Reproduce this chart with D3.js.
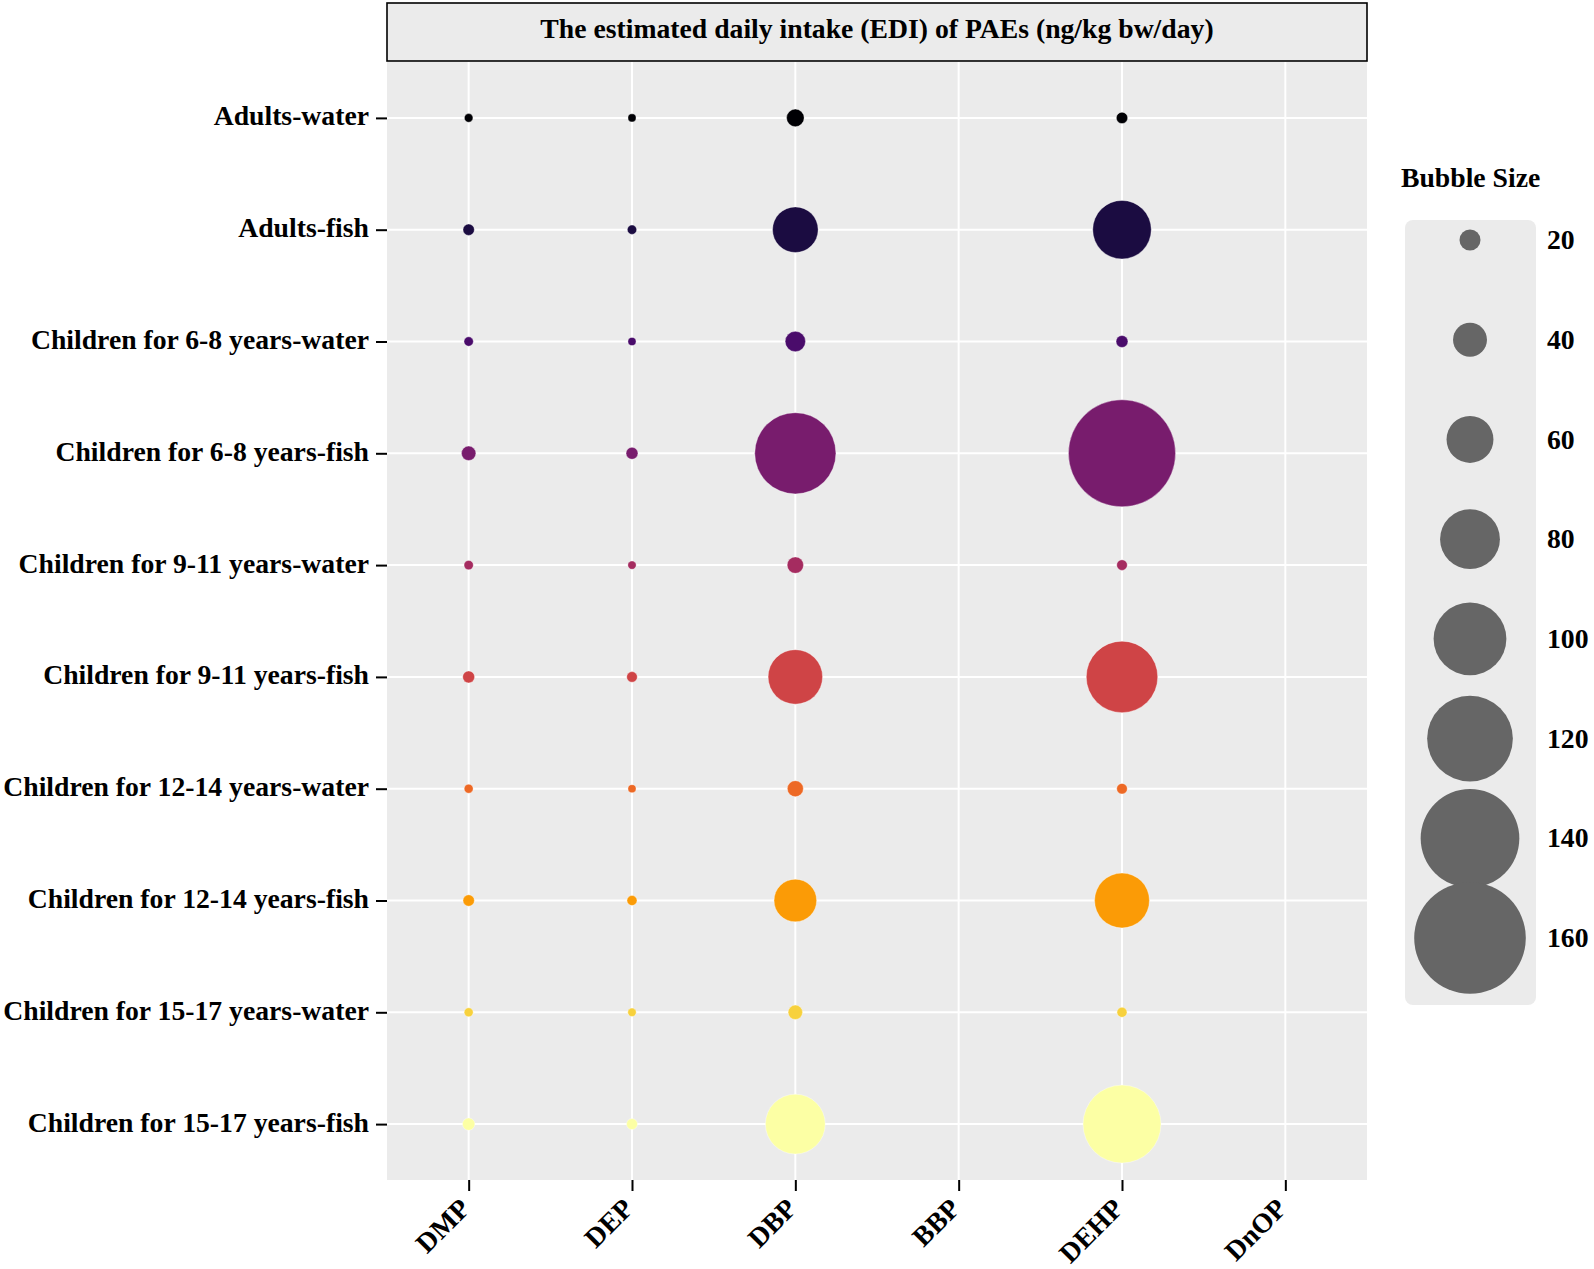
<!DOCTYPE html>
<html>
<head>
<meta charset="utf-8">
<script src="https://cdn.jsdelivr.net/npm/d3@7"></script>
<style>
  body { margin: 0; background: #fff; }
  text { font-family: "Liberation Serif", "Times New Roman", serif; font-weight: bold; fill: #000; }
</style>
</head>
<body>
<svg id="chart" width="1594" height="1269"></svg>
<script>
// compounds (x) and exposure groups (y)
const compounds = ["DMP", "DEP", "DBP", "BBP", "DEHP", "DnOP"];
const groups = [
    "Adults-water", "Adults-fish",
    "Children for 6-8 years-water", "Children for 6-8 years-fish",
    "Children for 9-11 years-water", "Children for 9-11 years-fish",
    "Children for 12-14 years-water", "Children for 12-14 years-fish",
    "Children for 15-17 years-water", "Children for 15-17 years-fish"
];

// EDI values per compound, one per group (null = not drawn)
const dmp  = [0.8, 5.1, 2.0, 9.8, 2.0, 6.0, 1.4, 5.1, 1.4, 6.7];
const dep  = [0.0, 2.0, 0.0, 6.0, 0.5, 3.9, 0.0, 3.0, 0.5, 4.5];
const dbp  = [14.7, 58, 19, 113, 12.9, 71.7, 12.3, 53.4, 9.8, 80];
const bbp  = [null, null, null, null, null, null, null, null, null, null];
const dehp = [5.1, 78, 6, 153, 3.9, 98, 3.9, 72.3, 3.0, 108];
const dnop = [null, null, null, null, null, null, null, null, null, null];

const sizeBreaks = [20, 40, 60, 80, 100, 120, 140, 160];
const chartTitle = "The estimated daily intake (EDI) of PAEs (ng/kg bw/day)";

const seriesByCompound = { DMP: dmp, DEP: dep, DBP: dbp, BBP: bbp, DEHP: dehp, DnOP: dnop };

const points = [];
compounds.forEach((c) => {
    seriesByCompound[c].forEach((v, i) => {
        if (v != null) points.push({ compound: c, group: groups[i], gi: i, value: v });
    });
});

const svg = d3.select("#chart");
const fontSize = 27.7;

const panel = { left: 387, right: 1367, top: 62, bottom: 1180 };

const x = d3.scalePoint().domain(compounds).range([panel.left, panel.right]).padding(0.5);
const y = d3.scalePoint().domain(groups).range([panel.top, panel.bottom]).padding(0.5);
const r = d3.scaleLinear().domain([0, 160]).range([4.04, 55.8]);
const colour = (i) => d3.interpolateInferno(i / (groups.length - 1));

// strip title
svg.append("rect")
    .attr("x", panel.left).attr("y", 3)
    .attr("width", panel.right - panel.left).attr("height", panel.top - 4)
    .attr("fill", "#EBEBEB")
    .attr("stroke", "#000")
    .attr("stroke-width", 1.6);

svg.append("text")
    .attr("x", (panel.left + panel.right) / 2)
    .attr("y", 38)
    .attr("text-anchor", "middle")
    .style("font-size", fontSize + "px")
    .text(chartTitle);

// panel background + grid
svg.append("rect")
    .attr("x", panel.left).attr("y", panel.top)
    .attr("width", panel.right - panel.left).attr("height", panel.bottom - panel.top)
    .attr("fill", "#EBEBEB");

const grid = svg.append("g").attr("class", "grid");
grid.selectAll("line.v")
    .data(compounds)
    .enter()
    .append("line")
    .attr("class", "v")
    .attr("x1", (d) => x(d)).attr("x2", (d) => x(d))
    .attr("y1", panel.top).attr("y2", panel.bottom)
    .attr("stroke", "#fff").attr("stroke-width", 2);
grid.selectAll("line.h")
    .data(groups)
    .enter()
    .append("line")
    .attr("class", "h")
    .attr("x1", panel.left).attr("x2", panel.right)
    .attr("y1", (d) => y(d)).attr("y2", (d) => y(d))
    .attr("stroke", "#fff").attr("stroke-width", 2);

// axes
const xAxis = svg.append("g")
    .attr("transform", "translate(0," + panel.bottom + ")")
    .call(d3.axisBottom(x).tickSize(11).tickFormat(""));
const yAxis = svg.append("g")
    .attr("transform", "translate(" + panel.left + ",0)")
    .call(d3.axisLeft(y).tickSize(11).tickFormat(""));
[xAxis, yAxis].forEach((a) => {
    a.select(".domain").remove();
    a.selectAll(".tick line").attr("stroke", "#000").attr("stroke-width", 2);
});

svg.append("g")
    .selectAll("text")
    .data(groups)
    .enter()
    .append("text")
    .attr("x", panel.left - 18)
    .attr("y", (d) => y(d))
    .attr("dy", "0.27em")
    .attr("text-anchor", "end")
    .style("font-size", fontSize + "px")
    .text((d) => d);

svg.append("g")
    .selectAll("text")
    .data(compounds)
    .enter()
    .append("text")
    .attr("transform", (d) => "translate(" + (x(d) + 3) + "," + 1210 + ") rotate(-45)")
    .attr("text-anchor", "end")
    .style("font-size", fontSize + "px")
    .text((d) => d);

// bubbles
svg.append("g")
    .selectAll("circle")
    .data(points)
    .enter()
    .append("circle")
    .attr("cx", (d) => x(d.compound))
    .attr("cy", (d) => y(d.group))
    .attr("r", (d) => r(d.value))
    .attr("fill", (d) => colour(d.gi))
    .attr("stroke", "#fff")
    .attr("stroke-opacity", 0.6)
    .attr("stroke-width", 0.6);

// size legend
const legY = d3.scalePoint().domain(sizeBreaks).range([240, 938]);
const legend = svg.append("g");

legend.append("text")
    .attr("x", 1401).attr("y", 187)
    .style("font-size", fontSize + "px")
    .text("Bubble Size");

legend.append("rect")
    .attr("x", 1405).attr("y", 220)
    .attr("width", 131).attr("height", 785)
    .attr("rx", 8).attr("ry", 8)
    .attr("fill", "#EBEBEB");

legend.selectAll("circle")
    .data(sizeBreaks)
    .enter()
    .append("circle")
    .attr("cx", 1470)
    .attr("cy", (d) => legY(d))
    .attr("r", (d) => r(d))
    .attr("fill", "#666666");

legend.selectAll("text.lab")
    .data(sizeBreaks)
    .enter()
    .append("text")
    .attr("class", "lab")
    .attr("x", 1547)
    .attr("y", (d) => legY(d))
    .attr("dy", "0.33em")
    .style("font-size", fontSize + "px")
    .text((d) => d);
</script>
</body>
</html>
